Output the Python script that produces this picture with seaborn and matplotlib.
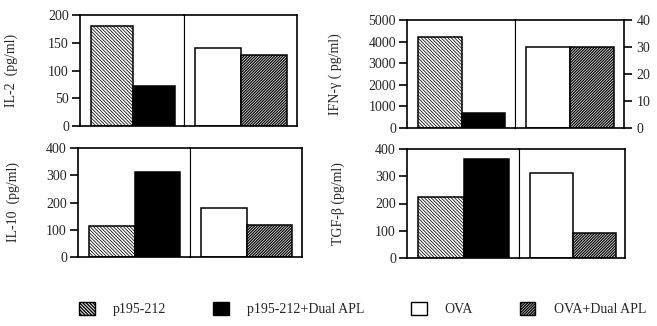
import matplotlib
matplotlib.use("Agg")
import matplotlib.pyplot as plt
import matplotlib.patches as mpatches
import seaborn as sns

groups = ["p195-212", "p195-212+Dual APL", "OVA", "OVA+Dual APL"]
il2 = [180, 72, 140, 128]
ifng = [4200, 700]          # left scale, pg/ml
ifng_ova = [30, 30]         # right scale
il10 = [112, 312, 178, 118]
tgfb = [224, 362, 312, 92]

hatches = ["\\" * 10, "", "", "/" * 12]
hatch_lw = [0.55, 0.8, 0.8, 0.9]
faces = ["white", "black", "white", "white"]

sns.set_style("ticks")
plt.rcParams["font.family"] = ["Liberation Serif", "DejaVu Serif"]
plt.rcParams["axes.linewidth"] = 1.2

W, H = 657, 326
fig = plt.figure(figsize=(W / 100, H / 100), dpi=100)


def box(l, r, t, b):
    return [l / W, 1 - b / H, (r - l) / W, (b - t) / H]


def set_hatch(p, h, lw):
    p.set_hatch(h)
    if hasattr(p, "set_hatch_linewidth"):
        p.set_hatch_linewidth(lw)
    else:
        p._hatch_linewidth = lw


def half(rect, names, vals, hs, lws, fcs, ylim):
    ax = fig.add_axes(rect)
    sns.barplot(x=names, y=vals, hue=names, palette=fcs, width=1,
                edgecolor="black", linewidth=1.1, legend=False, ax=ax,
                saturation=1)
    for p, h, lw in zip(ax.patches, hs, lws):
        set_hatch(p, h, lw)
    ax.set_xlim(-0.75, 1.72)
    ax.set_ylim(*ylim)
    ax.set_xticks([])
    ax.set_xlabel("")
    ax.set_ylabel("")
    for s in ax.spines.values():
        s.set_visible(True)
        s.set_color("black")
    return ax


def panel(L, D, R, T, B, vals, ylim, yticks, label, labx, right=None):
    axl = half(box(L, D, T, B), groups[:2], vals[:2], hatches[:2], hatch_lw[:2],
               faces[:2], ylim)
    axl.set_yticks(yticks)
    axl.tick_params(axis="y", direction="out", length=6, width=1.4,
                    labelsize=10, pad=2)
    axl.spines["right"].set_linewidth(0.8)
    axl.set_ylabel(label, fontsize=10)
    axl.yaxis.set_label_coords((labx - L) / (D - L), 0.5)

    if right is None:
        axr = half(box(D, R, T, B), groups[2:], vals[2:], hatches[2:], hatch_lw[2:],
                   faces[2:], ylim)
        axr.set_yticks([])
    else:
        rvals, rlim, rticks = right
        axr = half(box(D, R, T, B), groups[2:], rvals, hatches[2:], hatch_lw[2:],
                   faces[2:], rlim)
        axr.yaxis.tick_right()
        axr.set_yticks(rticks)
        axr.tick_params(axis="y", direction="out", length=6, width=1.4,
                        labelsize=10, pad=3, left=False, right=True)
    axr.spines["left"].set_linewidth(0.8)
    return axl, axr


panel(80, 184, 297, 15, 126, il2, (0, 200), range(0, 201, 50),
      "IL-2  (pg/ml)", 18)
panel(407, 515, 624, 20, 128, ifng, (0, 5000), range(0, 5001, 1000),
      "IFN-γ ( pg/ml)", 342, right=(ifng_ova, (0, 40), range(0, 41, 10)))
panel(78, 190, 302, 148, 257, il10, (0, 400), range(0, 401, 100),
      "IL-10  (pg/ml)", 20)
panel(407, 519, 625, 149, 258, tgfb, (0, 400), range(0, 401, 100),
      "TGF-β (pg/ml)", 345)

handles = []
for f, h, lw in zip(faces, hatches, hatch_lw):
    hp = mpatches.Patch(facecolor=f, edgecolor="black", linewidth=1)
    set_hatch(hp, h, lw)
    handles.append(hp)
fig.legend(handles, groups, loc="center", bbox_to_anchor=(0.552, 1 - 309 / H),
           ncol=4, frameon=False, fontsize=10, handlelength=1.1,
           handleheight=1.1, handletextpad=1.3, columnspacing=3.4)

fig.savefig("out.png", dpi=100)
